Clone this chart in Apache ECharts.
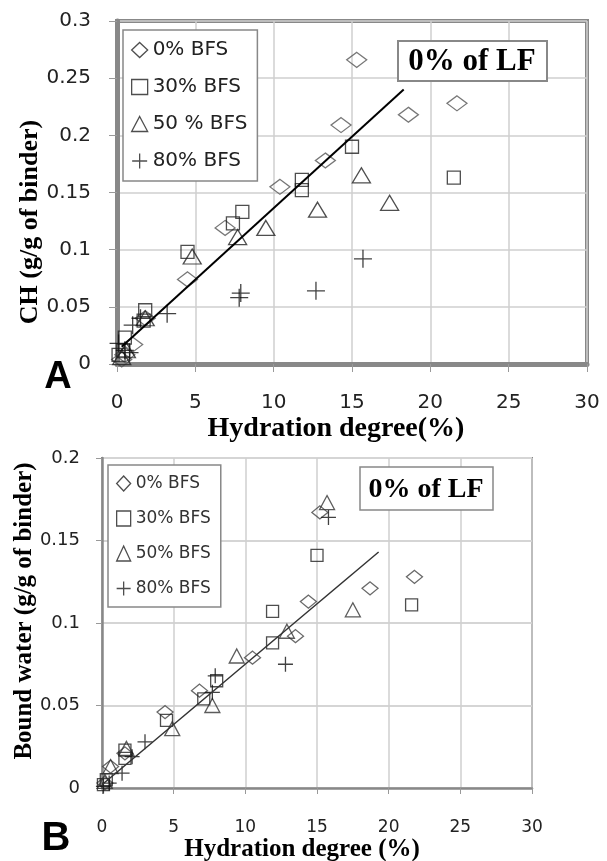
<!DOCTYPE html>
<html><head><meta charset="utf-8">
<script src="https://cdn.jsdelivr.net/npm/echarts@6/dist/echarts.min.js"></script>
<style>html,body{margin:0;padding:0;background:#fff}#c{width:607px;height:861px}</style>
</head><body><div id="c"></div>
<script>
// ---- Data (panel A: CH) ----
const seriesNamesA = ['0% BFS', '30% BFS', '50 % BFS', '80% BFS'];
const a0 = [[0.3,0.004],[0.5,0.008],[1.0,0.017],[1.8,0.040],[4.5,0.074],[6.9,0.119],[10.4,0.155],[13.3,0.178],[14.3,0.209],[15.3,0.266],[18.6,0.218],[21.7,0.228]];
const a30 = [[0.1,0.008],[0.4,0.012],[0.5,0.023],[1.7,0.038],[1.8,0.047],[4.5,0.098],[7.4,0.123],[8.0,0.133],[11.8,0.152],[11.8,0.161],[15.0,0.190],[21.5,0.163]];
const a50 = [[0.3,0.006],[0.6,0.012],[1.8,0.040],[4.8,0.094],[7.7,0.111],[9.5,0.119],[12.8,0.135],[15.6,0.165],[17.4,0.141]];
const a80 = [[0.1,0.018],[0.5,0.012],[0.8,0.010],[1.0,0.034],[1.5,0.040],[3.2,0.044],[7.8,0.058],[7.9,0.062],[12.7,0.064],[15.7,0.092]];
const trendA = [[0.3,0.015],[18.3,0.240]];
// ---- Data (panel B: bound water) ----
const seriesNamesB = ['0% BFS', '30% BFS', '50% BFS', '80% BFS'];
const b0 = [[0.2,0.003],[0.6,0.013],[1.6,0.021],[4.4,0.046],[6.8,0.059],[10.5,0.079],[13.5,0.092],[14.4,0.113],[15.2,0.167],[18.7,0.121],[21.8,0.128]];
const b30 = [[0.1,0.002],[0.3,0.005],[1.6,0.018],[1.6,0.023],[4.5,0.041],[7.1,0.054],[8.0,0.065],[11.9,0.088],[11.9,0.107],[15.0,0.141],[21.6,0.111]];
const b50 = [[0.2,0.004],[0.6,0.013],[1.7,0.024],[4.9,0.036],[7.7,0.050],[9.4,0.080],[12.9,0.095],[15.7,0.173],[17.5,0.108]];
const b80 = [[0.1,0.001],[0.5,0.003],[1.4,0.009],[2.1,0.019],[3.0,0.028],[7.7,0.058],[7.9,0.068],[12.8,0.075],[15.8,0.164]];
const trendB = [[0,0.002],[19.3,0.143]];
const xTicks = [0,5,10,15,20,25,30];
const yTicksA = [0,0.05,0.1,0.15,0.2,0.25,0.3];
const yTicksB = [0,0.05,0.1,0.15,0.2];

const PLUS = 'path://M0,5L10,5M5,0L5,10';
const hollow = c => ({color:'rgba(0,0,0,0)', borderColor:c, borderWidth:1.3});
const symA = [['diamond',[20,15],'#555'],['rect',[13,13],'#222'],['triangle',[18,15],'#222'],[PLUS,[18,18],'#111']];
const symB = [['diamond',[16,13],'#444'],['rect',[12,12],'#222'],['triangle',[15,14],'#333'],[PLUS,[15,15],'#111']];
const dataA = [a0,a30,a50,a80], dataB = [b0,b30,b50,b80];

const chart = echarts.init(document.getElementById('c'));
const series = [];
dataA.forEach((d,i)=>series.push({type:'scatter', name:seriesNamesA[i], xAxisIndex:0, yAxisIndex:0, data:d,
  symbol:symA[i][0], symbolSize:symA[i][1], itemStyle:hollow(symA[i][2]), z:3}));
series.push({type:'line', name:'trendA', xAxisIndex:0, yAxisIndex:0, data:trendA, symbol:'none',
  lineStyle:{color:'#000', width:2}, z:4});
dataB.forEach((d,i)=>series.push({type:'scatter', name:'B'+seriesNamesB[i], xAxisIndex:1, yAxisIndex:1, data:d,
  symbol:symB[i][0], symbolSize:symB[i][1], itemStyle:hollow(symB[i][2]), z:3}));
series.push({type:'line', name:'trendB', xAxisIndex:1, yAxisIndex:1, data:trendB, symbol:'none',
  lineStyle:{color:'#333', width:1.5}, z:4});

const xAxisBase = (gi, fs, margin, lineW, tickLen) => ({type:'value', gridIndex:gi, min:0, max:30, interval:5,
  axisLine:{show:true, onZero:false, lineStyle:{color:'#888', width:lineW}},
  axisTick:{show:true, length:tickLen, lineStyle:{color:'#999'}},
  splitLine:{show:true, lineStyle:{color:'#cfcfcf', width:1.5}},
  axisLabel:{fontSize:fs, color:'#222', margin:margin, fontFamily:'DejaVu Sans', formatter:v=>xTicks.includes(v)?String(v):''}});

const option = {
  animation:false,
  backgroundColor:'#fff',
  grid:[
    {left:117, top:21, width:470, height:343, show:true, borderColor:'#888', borderWidth:4},
    {left:102, top:458, width:430, height:330, show:true, borderColor:'#888', borderWidth:2}
  ],
  xAxis:[xAxisBase(0,20,29,5,8), xAxisBase(1,17,31,2.5,6)],
  yAxis:[
    {type:'value', gridIndex:0, min:0, max:0.3, interval:0.05,
      axisLine:{show:true, onZero:false, lineStyle:{color:'#888', width:5}},
      axisTick:{show:true, length:8, lineStyle:{color:'#999'}},
      splitLine:{show:true, lineStyle:{color:'#cfcfcf', width:1.5}},
      axisLabel:{fontSize:20, color:'#222', margin:26, fontFamily:'DejaVu Sans', formatter:v=>String(+v.toFixed(2))}},
    {type:'value', gridIndex:1, min:0, max:0.2, interval:0.05,
      axisLine:{show:true, onZero:false, lineStyle:{color:'#888', width:2.5}},
      axisTick:{show:true, length:6, lineStyle:{color:'#999'}},
      splitLine:{show:true, lineStyle:{color:'#d5d5d5', width:2}},
      axisLabel:{fontSize:18, color:'#222', margin:22, fontFamily:'DejaVu Sans', formatter:v=>String(+v.toFixed(2))}}
  ],
  legend:[
    {orient:'vertical', left:123, top:30, padding:[10,10,10,8], itemGap:17, itemWidth:16, itemHeight:15,
      borderColor:'#888', borderWidth:1.5, backgroundColor:'#fff',
      textStyle:{fontSize:20, color:'#222', fontFamily:'DejaVu Sans'}, selectedMode:false,
      data:seriesNamesA.map((n,i)=>({name:n, icon:symA[i][0], itemStyle:hollow('#222')}))},
    {orient:'vertical', left:108, top:465, padding:[10,10,10,8], itemGap:18, itemWidth:14, itemHeight:15,
      borderColor:'#888', borderWidth:1.5, backgroundColor:'#fff',
      textStyle:{fontSize:17, color:'#333', fontFamily:'DejaVu Sans'}, selectedMode:false,
      formatter:n=>n.slice(1),
      data:seriesNamesB.map((n,i)=>({name:'B'+n, icon:symB[i][0], itemStyle:hollow('#222')}))}
  ],
  graphic:[
    {type:'rect', shape:{x:398, y:41, width:149, height:40}, style:{fill:'#fff', stroke:'#888', lineWidth:2}, z:10},
    {type:'text', x:472, y:62, style:{text:'0% of LF', fontSize:31, fontWeight:'bold', fontFamily:'Liberation Serif', fill:'#000', align:'center', verticalAlign:'middle'}, z:11},
    {type:'rect', shape:{x:360, y:467, width:133, height:43}, style:{fill:'#fff', stroke:'#888', lineWidth:1.5}, z:10},
    {type:'text', x:426, y:490, style:{text:'0% of LF', fontSize:28, fontWeight:'bold', fontFamily:'Liberation Serif', fill:'#000', align:'center', verticalAlign:'middle'}, z:11},
    {type:'text', x:336, y:429, style:{text:'Hydration degree(%)', fontSize:28, fontWeight:'bold', fontFamily:'Liberation Serif', fill:'#000', align:'center', verticalAlign:'middle'}},
    {type:'text', x:30, y:222, rotation:Math.PI/2, style:{text:'CH (g/g of binder)', fontSize:26, fontWeight:'bold', fontFamily:'Liberation Serif', fill:'#000', align:'center', verticalAlign:'middle'}},
    {type:'text', x:302, y:850, style:{text:'Hydration degree (%)', fontSize:25, fontWeight:'bold', fontFamily:'Liberation Serif', fill:'#000', align:'center', verticalAlign:'middle'}},
    {type:'text', x:25, y:611, rotation:Math.PI/2, style:{text:'Bound water (g/g of binder)', fontSize:25, fontWeight:'bold', fontFamily:'Liberation Serif', fill:'#000', align:'center', verticalAlign:'middle'}},
    {type:'text', x:58, y:378, style:{text:'A', fontSize:38, fontWeight:'bold', fontFamily:'Liberation Sans', fill:'#000', align:'center', verticalAlign:'middle'}},
    {type:'text', x:56, y:839, style:{text:'B', fontSize:40, fontWeight:'bold', fontFamily:'Liberation Sans', fill:'#000', align:'center', verticalAlign:'middle'}}
  ],
  series:series
};
chart.setOption(option);
</script></body></html>
